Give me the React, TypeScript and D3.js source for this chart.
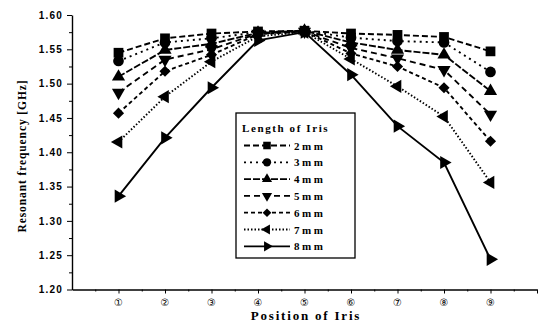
import React, { useEffect, useRef } from 'react';
import * as d3 from 'd3';

const width = 542;
const height = 324;

// positions of the iris along the filter
const positions = [1, 2, 3, 4, 5, 6, 7, 8, 9];
const positionLabels = ['①', '②', '③', '④', '⑤', '⑥', '⑦', '⑧', '⑨'];
const yTicks = [1.2, 1.25, 1.3, 1.35, 1.4, 1.45, 1.5, 1.55, 1.6];

// resonant frequency [GHz] for each iris length
const iris2mm = [1.545, 1.566, 1.573, 1.576, 1.577, 1.573, 1.571, 1.568, 1.547];
const iris3mm = [1.533, 1.56, 1.566, 1.575, 1.577, 1.567, 1.562, 1.56, 1.517];
const iris4mm = [1.51, 1.549, 1.558, 1.574, 1.577, 1.56, 1.549, 1.542, 1.489];
const iris5mm = [1.487, 1.535, 1.55, 1.573, 1.576, 1.552, 1.537, 1.52, 1.455];
const iris6mm = [1.457, 1.518, 1.542, 1.572, 1.576, 1.544, 1.525, 1.494, 1.416];
const iris7mm = [1.415, 1.481, 1.532, 1.569, 1.575, 1.536, 1.496, 1.452, 1.356];
const iris8mm = [1.336, 1.421, 1.494, 1.563, 1.575, 1.513, 1.438, 1.385, 1.244];

const seriesNames = ['2mm', '3mm', '4mm', '5mm', '6mm', '7mm', '8mm'];
const seriesValues = [iris2mm, iris3mm, iris4mm, iris5mm, iris6mm, iris7mm, iris8mm];

// marker shape, rotation and dash for each series
const styles = [
  { symbol: d3.symbolSquare, size: 95, rotate: 0, dash: '6,3' },
  { symbol: d3.symbolCircle, size: 90, rotate: 0, dash: '2,4' },
  { symbol: d3.symbolTriangle, size: 75, rotate: 0, dash: '7,2' },
  { symbol: d3.symbolTriangle, size: 75, rotate: 180, dash: '6,4' },
  { symbol: d3.symbolSquare, size: 62, rotate: 45, dash: '4,3' },
  { symbol: d3.symbolTriangle, size: 75, rotate: -90, dash: '1.5,2' },
  { symbol: d3.symbolTriangle, size: 75, rotate: 90, dash: null },
];

const serif = '"Liberation Serif", "Times New Roman", serif';
const sans = '"Liberation Sans", Arial, sans-serif';

const x = d3.scaleLinear().domain([0, 10]).range([72, 537]);
const y = d3.scaleLinear().domain([1.2, 1.6]).range([289.5, 15]);

const App = () => {
  const ref = useRef<SVGSVGElement>(null);

  useEffect(() => {
    const svg = d3.select(ref.current);
    svg.selectAll('*').remove();

    // y axis
    const yAxis = svg.append('g').attr('transform', `translate(${x(0)},0)`);
    yAxis
      .call(
        d3.axisLeft(y).tickValues(yTicks).tickSize(5).tickSizeOuter(0).tickPadding(4)
          .tickFormat(d3.format('.2f')),
      )
      .call(g => g.select('.domain').attr('stroke-width', 1.4));
    yAxis
      .selectAll('text')
      .attr('font-family', sans)
      .attr('font-weight', 'bold')
      .attr('font-size', 10)
      .attr('letter-spacing', 1.2)
      .attr('fill', '#000');
    yAxis
      .append('g')
      .call(d3.axisLeft(y).tickValues(d3.range(1.225, 1.6, 0.05)).tickSize(3).tickFormat(() => ''))
      .call(g => g.select('.domain').remove());

    // x axis
    const xAxis = svg.append('g').attr('transform', `translate(0,${y(1.2)})`);
    xAxis
      .call(d3.axisBottom(x).tickValues([...positions, 10]).tickSize(4).tickSizeOuter(0).tickFormat(() => ''))
      .call(g => g.select('.domain').attr('stroke-width', 1.4));
    xAxis
      .append('g')
      .call(d3.axisBottom(x).tickValues(d3.range(0.5, 10, 1)).tickSize(2).tickFormat(() => ''))
      .call(g => g.select('.domain').remove());

    svg
      .append('g')
      .selectAll('text')
      .data(positions)
      .enter()
      .append('text')
      .attr('x', d => x(d))
      .attr('y', 306)
      .attr('text-anchor', 'middle')
      .attr('font-family', '"DejaVu Sans", sans-serif')
      .attr('font-size', 10)
      .text((d, i) => positionLabels[i]);

    // axis titles
    svg
      .append('text')
      .attr('x', 306)
      .attr('y', 320)
      .attr('text-anchor', 'middle')
      .attr('font-family', serif)
      .attr('font-weight', 'bold')
      .attr('font-size', 13)
      .attr('letter-spacing', 1.8)
      .text('Position of Iris');

    svg
      .append('text')
      .attr('transform', 'translate(26,156) rotate(-90)')
      .attr('text-anchor', 'middle')
      .attr('font-family', serif)
      .attr('font-weight', 'bold')
      .attr('font-size', 11.5)
      .attr('letter-spacing', 0.9)
      .text('Resonant frequency [GHz]');

    // series lines and markers
    const line = d3
      .line<number>()
      .x((d, i) => x(positions[i]))
      .y(d => y(d));

    seriesValues.forEach((vals, s) => {
      const st = styles[s];
      svg
        .append('path')
        .attr('d', line(vals))
        .attr('fill', 'none')
        .attr('stroke', '#000')
        .attr('stroke-width', 1.9)
        .attr('stroke-dasharray', st.dash);
      svg
        .append('g')
        .selectAll('path')
        .data(vals)
        .enter()
        .append('path')
        .attr('d', d3.symbol(st.symbol, st.size)())
        .attr('transform', (d, i) => `translate(${x(positions[i])},${y(d)}) rotate(${st.rotate})`)
        .attr('fill', '#000');
    });

    // legend
    const legend = svg.append('g');
    legend
      .append('rect')
      .attr('x', 236)
      .attr('y', 113)
      .attr('width', 119)
      .attr('height', 145)
      .attr('fill', '#fff')
      .attr('stroke', '#000')
      .attr('stroke-width', 1.3);
    legend
      .append('text')
      .attr('x', 242)
      .attr('y', 132)
      .attr('font-family', serif)
      .attr('font-weight', 'bold')
      .attr('font-size', 11)
      .attr('letter-spacing', 1.6)
      .text('Length of Iris');

    seriesNames.forEach((name, s) => {
      const st = styles[s];
      const ly = 145.5 + s * 16.8;
      legend
        .append('line')
        .attr('x1', 244)
        .attr('x2', 290)
        .attr('y1', ly)
        .attr('y2', ly)
        .attr('stroke', '#000')
        .attr('stroke-width', 1.8)
        .attr('stroke-dasharray', st.dash);
      legend
        .append('path')
        .attr('d', d3.symbol(st.symbol, st.size * 0.6)())
        .attr('transform', `translate(267,${ly}) rotate(${st.rotate})`)
        .attr('fill', '#000');
      legend
        .append('text')
        .attr('x', 294)
        .attr('y', ly + 4)
        .attr('font-family', serif)
        .attr('font-weight', 'bold')
        .attr('font-size', 11)
        .attr('letter-spacing', 2.5)
        .text(name);
    });
  });

  return (
    <svg
      ref={ref}
      width={width}
      height={height}
      style={{ position: 'absolute', left: 0, top: 0, background: '#fff' }}
    />
  );
};

export default App;
